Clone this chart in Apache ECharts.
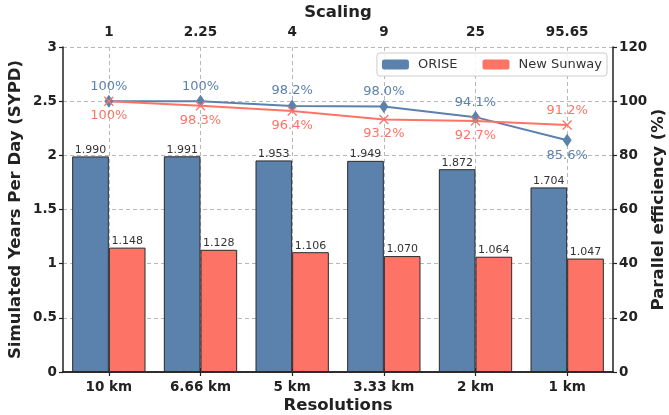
<!DOCTYPE html>
<html>
<head>
<meta charset="utf-8">
<script src="https://cdn.jsdelivr.net/npm/echarts@6/dist/echarts.min.js"></script>
<style>
  html, body { margin: 0; padding: 0; background: #fff; }
  #main { width: 669px; height: 415px; }
</style>
</head>
<body>
<div id="main"></div>
<script>
  // chart data
  const resolutions = ['10 km', '6.66 km', '5 km', '3.33 km', '2 km', '1 km'];
  const scaling = ['1', '2.25', '4', '9', '25', '95.65'];
  const oriseSypd = [1.990, 1.991, 1.953, 1.949, 1.872, 1.704];
  const sunwaySypd = [1.148, 1.128, 1.106, 1.070, 1.064, 1.047];
  const oriseEff = [100, 100, 98.2, 98.0, 94.1, 85.6];
  const sunwayEff = [100, 98.3, 96.4, 93.2, 92.7, 91.2];

  const BLUE = '#5b81ad';
  const RED = '#fd7467';
  const FONT = 'DejaVu Sans';

  // label above/below, last point flipped
  function effData (vals, pos, lastPos) {
    return vals.map((v, i) => ({
      value: v,
      label: { position: i === vals.length - 1 ? lastPos : pos }
    }));
  }

  const tickLabel = { fontFamily: FONT, fontWeight: 'bold', fontSize: 13.5, color: '#222' };
  const nameStyle = { fontFamily: FONT, fontWeight: 'bold', fontSize: 16.5, color: '#222' };
  const axisLine = { show: true, lineStyle: { color: '#222', width: 1.5 } };
  const axisTick = { show: true, length: 4, lineStyle: { color: '#222', width: 1.2 } };
  const dashed = { show: true, lineStyle: { color: '#b8b8b8', type: [4, 3], width: 1 } };

  const chart = echarts.init(document.getElementById('main'), null, { renderer: 'canvas' });
  chart.setOption({
    animation: false,
    backgroundColor: '#fff',
    textStyle: { fontFamily: FONT },
    grid: { left: 63, right: 56, top: 47, bottom: 43, containLabel: false, outerBoundsMode: 'none' },
    legend: {
      data: ['ORISE', 'New Sunway'],
      right: 62,
      top: 53,
      itemWidth: 27,
      itemHeight: 10,
      itemGap: 25,
      padding: [5, 5, 5, 5],
      borderColor: '#cccccc',
      borderWidth: 1,
      borderRadius: 3,
      backgroundColor: 'rgba(255,255,255,0.85)',
      itemStyle: { borderWidth: 0 },
      textStyle: { fontFamily: FONT, fontSize: 13, color: '#333', padding: [0, 0, 0, 4] }
    },
    xAxis: [
      {
        type: 'category',
        data: resolutions,
        position: 'bottom',
        name: 'Resolutions',
        nameLocation: 'middle',
        nameGap: 25,
        nameMoveOverlap: false,
        nameTextStyle: nameStyle,
        axisLine: axisLine,
        axisTick: Object.assign({ alignWithLabel: true }, axisTick),
        axisLabel: Object.assign({ margin: 8 }, tickLabel),
        splitLine: Object.assign({ alignWithLabel: true }, dashed)
      },
      {
        type: 'category',
        data: scaling,
        position: 'top',
        name: 'Scaling',
        nameLocation: 'middle',
        nameGap: 26,
        nameMoveOverlap: false,
        nameTextStyle: nameStyle,
        axisLine: axisLine,
        axisTick: Object.assign({ alignWithLabel: true }, axisTick),
        axisLabel: Object.assign({ margin: 8 }, tickLabel),
        splitLine: { show: false }
      }
    ],
    yAxis: [
      {
        type: 'value',
        min: 0,
        max: 3,
        interval: 0.5,
        name: 'Simulated Years Per Day (SYPD)',
        nameLocation: 'middle',
        nameGap: 39,
        nameMoveOverlap: false,
        nameTextStyle: nameStyle,
        axisLine: axisLine,
        axisTick: axisTick,
        axisLabel: Object.assign({ margin: 6 }, tickLabel),
        splitLine: dashed
      },
      {
        type: 'value',
        min: 0,
        max: 120,
        interval: 20,
        position: 'right',
        name: 'Parallel efficiency (%)',
        nameLocation: 'middle',
        nameGap: 37,
        nameMoveOverlap: false,
        nameRotate: 90,
        nameTextStyle: nameStyle,
        axisLine: axisLine,
        axisTick: axisTick,
        axisLabel: Object.assign({ margin: 6 }, tickLabel),
        splitLine: { show: false }
      }
    ],
    series: [
      {
        name: 'ORISE',
        type: 'bar',
        data: oriseSypd,
        barGap: '0%',
        barCategoryGap: '20%',
        itemStyle: { color: BLUE, borderColor: '#2a2a2a', borderWidth: 1 },
        label: {
          show: true, position: 'top', distance: 1,
          fontFamily: FONT, fontSize: 11, color: '#333',
          formatter: p => p.value.toFixed(3)
        }
      },
      {
        name: 'New Sunway',
        type: 'bar',
        data: sunwaySypd,
        itemStyle: { color: RED, borderColor: '#2a2a2a', borderWidth: 1 },
        label: {
          show: true, position: 'top', distance: 1,
          fontFamily: FONT, fontSize: 11, color: '#333',
          formatter: p => p.value.toFixed(3)
        }
      },
      {
        name: 'ORISE efficiency',
        type: 'line',
        yAxisIndex: 1,
        data: effData(oriseEff, 'top', 'bottom'),
        symbol: 'diamond',
        symbolSize: [9, 13],
        lineStyle: { color: BLUE, width: 2 },
        itemStyle: { color: BLUE },
        label: {
          show: true, distance: 2,
          fontFamily: FONT, fontSize: 13, color: BLUE,
          formatter: p => p.value.toFixed(p.value === 100 ? 0 : 1) + '%'
        }
      },
      {
        name: 'New Sunway efficiency',
        type: 'line',
        yAxisIndex: 1,
        data: effData(sunwayEff, 'bottom', 'top'),
        symbol: 'path://M0,0 L10,10 M10,0 L0,10',
        symbolSize: 9,
        lineStyle: { color: RED, width: 2 },
        itemStyle: { color: 'none', borderColor: RED, borderWidth: 1.3 },
        label: {
          show: true, distance: 1,
          fontFamily: FONT, fontSize: 13, color: RED,
          formatter: p => p.value.toFixed(p.value === 100 ? 0 : 1) + '%'
        }
      }
    ]
  });
</script>
</body>
</html>
